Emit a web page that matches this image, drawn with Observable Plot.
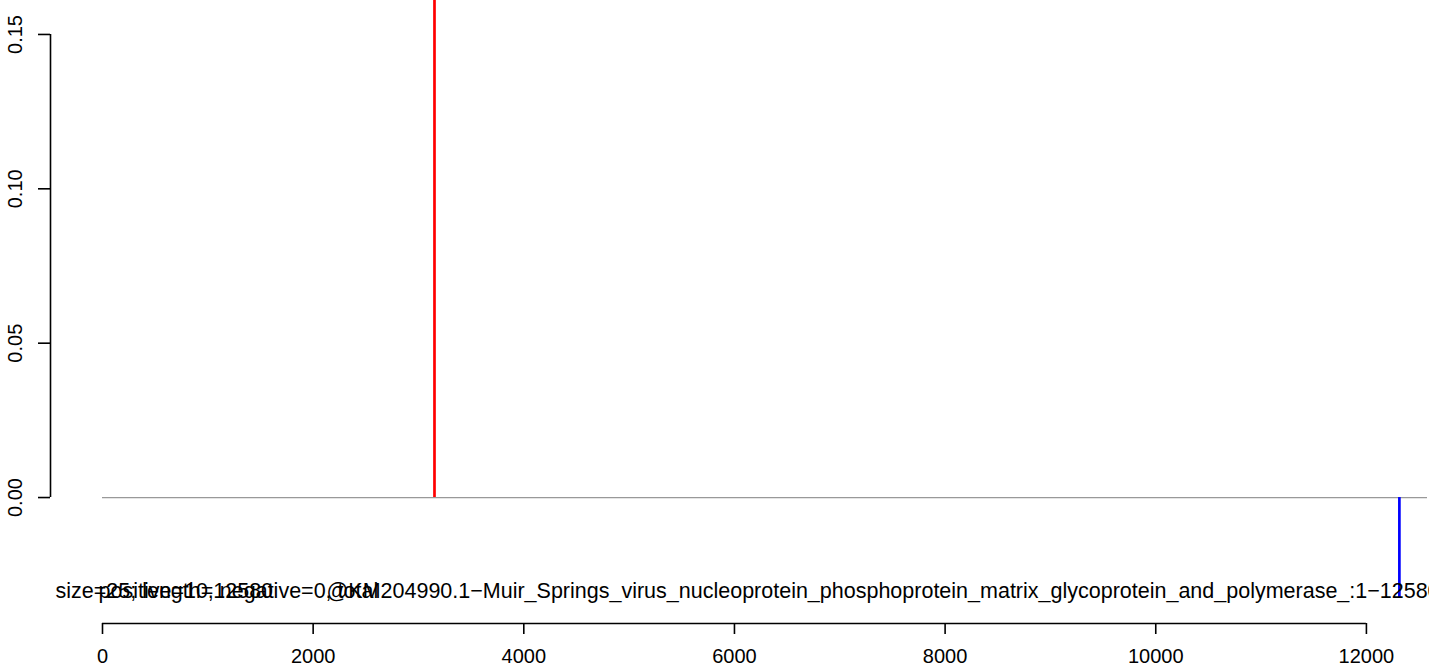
<!DOCTYPE html>
<html><head><meta charset="utf-8">
<script src="https://cdn.jsdelivr.net/npm/d3@7"></script>
<script src="https://cdn.jsdelivr.net/npm/@observablehq/plot@0.6"></script>
<style>html,body{margin:0;padding:0;background:#fff} svg{display:block}</style>
</head><body><div id="chart"></div>
<script>
// ---- data ----
const genomeLength = 12580;
const positivePositions = [3152];
const positiveValues = [0.17];
const negativePositions = [12313];
const negativeValues = [-0.0324];
const xTicks = [0, 2000, 4000, 6000, 8000, 10000, 12000];
const yTicks = [0, 0.05, 0.10, 0.15];
const yTickLabels = ["0.00", "0.05", "0.10", "0.15"];
const labelSize = "size=25; length=12580";
const labelCounts = "positive=10, negative=0, total";
const labelName = "@KM204990.1\u2212Muir_Springs_virus_nucleoprotein_phosphoprotein_matrix_glycoprotein_and_polymerase_:1\u221212580";

// ---- build ----
const positive = positivePositions.map((p, i) => ({position: p, value: positiveValues[i]}));
const negative = negativePositions.map((p, i) => ({position: p, value: negativeValues[i]}));
const yDomain = [-0.0408, 0.161];
const labelY = d3.min(negativeValues);
const font = "'Liberation Sans', Arial, Helvetica, sans-serif";
const labelFont = 21.5;

const chart = Plot.plot({
  width: 1429,
  height: 667,
  marginLeft: 102,
  marginRight: 2,
  marginTop: 0,
  marginBottom: 44,
  x: {domain: [0, genomeLength], axis: null},
  y: {domain: yDomain, axis: null},
  style: {fontFamily: font, fontSize: "20px", color: "#000", background: "#fff", overflow: "hidden"},
  marks: [
    Plot.ruleY([0], {x1: 0, x2: genomeLength, stroke: "#999", strokeWidth: 1.3}),
    Plot.ruleX(positive, {x: "position", y1: 0, y2: "value", stroke: "#ff0000", strokeWidth: 2.7, clip: true}),
    Plot.ruleX(negative, {x: "position", y1: 0, y2: "value", stroke: "#0000ff", strokeWidth: 2.7}),
    // x axis
    Plot.ruleY([yDomain[0]], {x1: xTicks[0], x2: xTicks[xTicks.length - 1], stroke: "#000", strokeWidth: 1.6}),
    Plot.axisX({ticks: xTicks, label: null, tickSize: 11, tickPadding: 14, strokeWidth: 1.6, fontSize: 20, tickFormat: d => String(d)}),
    // y axis
    Plot.ruleX([xTicks[0]], {y1: yTicks[0], y2: yTicks[yTicks.length - 1], dx: -52, stroke: "#000", strokeWidth: 1.6}),
    Plot.axisY({ticks: yTicks, label: null, tickSize: 12, dx: -52, strokeWidth: 1.6, tickFormat: () => ""}),
    Plot.text(yTicks, {y: d => d, text: (d, i) => yTickLabels[i], frameAnchor: "left", dx: -87, rotate: -90, textAnchor: "middle", lineAnchor: "middle", fontSize: 20, fill: "#000"}),
    // overlapping labels
    Plot.text([labelSize], {x: () => 0, y: () => labelY, text: d => d, textAnchor: "start", lineAnchor: "bottom", dx: -47, fontSize: labelFont, fill: "#000"}),
    Plot.text([labelCounts], {x: () => 0, y: () => labelY, text: d => d, textAnchor: "start", lineAnchor: "bottom", dx: -4, fontSize: labelFont, fill: "#000"}),
    Plot.text([labelName], {x: () => 0, y: () => labelY, text: d => d, textAnchor: "start", lineAnchor: "bottom", dx: 224, fontSize: labelFont, fill: "#000"})
  ]
});
document.getElementById("chart").appendChild(chart);
</script>
</body></html>
